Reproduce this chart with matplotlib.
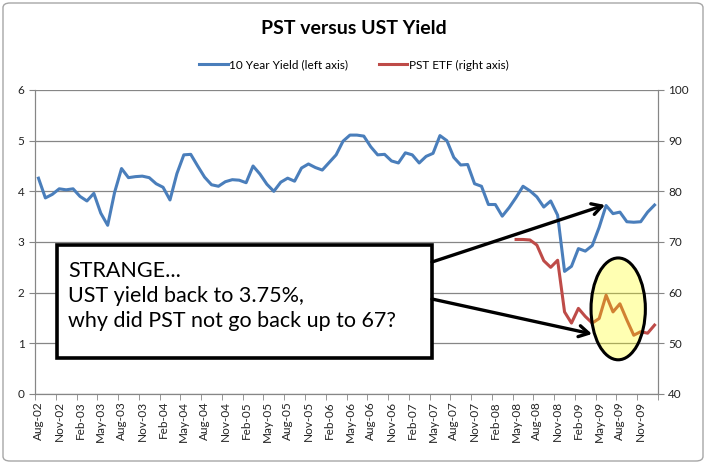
import numpy as np
import pandas as pd
import matplotlib
matplotlib.use("Agg")
import matplotlib.pyplot as plt
from matplotlib.patches import Ellipse, Rectangle, FancyBboxPatch, FancyArrowPatch

plt.rcParams['font.family'] = ['Lato', 'DejaVu Sans']

# monthly categories Aug-02 .. Jan-10
months = pd.date_range('2002-08-01', periods=90, freq='MS').strftime('%b-%y').tolist()

# 10 year treasury yield, %
yield10 = [4.26, 3.87, 3.94, 4.05, 4.03,
           4.05, 3.90, 3.81, 3.96, 3.57, 3.33, 3.98, 4.45, 4.27, 4.29, 4.30, 4.27,
           4.15, 4.08, 3.83, 4.35, 4.72, 4.73, 4.50, 4.28, 4.13, 4.10, 4.19, 4.23,
           4.22, 4.17, 4.50, 4.34, 4.14, 4.00, 4.18, 4.26, 4.20, 4.46, 4.54, 4.47,
           4.42, 4.57, 4.72, 4.99, 5.11, 5.11, 5.09, 4.88, 4.72, 4.73, 4.60, 4.56,
           4.76, 4.72, 4.56, 4.69, 4.75, 5.10, 5.00, 4.67, 4.52, 4.53, 4.15, 4.10,
           3.74, 3.74, 3.51, 3.68, 3.88, 4.10, 4.01, 3.89, 3.69, 3.81, 3.53, 2.42,
           2.52, 2.87, 2.82, 2.93, 3.29, 3.72, 3.56, 3.59, 3.40, 3.39, 3.40, 3.59,
           3.73]

# PST ETF price, starts May-08
pst_start = 'May-08'
pst = [70.5, 70.5, 70.4, 69.4, 66.3, 65.0, 66.4, 56.2, 54.0, 56.9, 55.3,
       54.0, 54.9, 59.5, 56.2, 57.8, 54.6, 51.6, 52.3, 52.0, 53.6]

W, H = 709, 468
def fx(x):
    return x / W
def fy(y):
    return 1 - y / H

blue = '#4A7EBB'
red = '#BE4B48'
grid = '#868686'

fig = plt.figure(figsize=(W / 100, H / 100), dpi=100)
fig.patch.set_facecolor('white')
fig.add_artist(FancyBboxPatch((fx(3), fy(461)), fx(700), 458 / H,
                              boxstyle='round,pad=0,rounding_size=0.01',
                              transform=fig.transFigure, facecolor='none',
                              edgecolor='#A6A6A6', lw=1))

ax = fig.add_axes([fx(35), fy(394), fx(623), 304 / H])
x = np.arange(len(months))
pst_full = np.full(len(months), np.nan)
i0 = months.index(pst_start)
pst_full[i0:i0 + len(pst)] = pst

l1, = ax.plot(x, yield10, color=blue, lw=2.2, solid_joinstyle='round')
ax.set_ylim(0, 6)
ax.set_xlim(-0.5, len(months) - 0.5)
ax.set_yticks(range(0, 7))
ax.grid(axis='y', color=grid, lw=0.9)
ax.set_axisbelow(True)

ax2 = ax.twinx()
l2, = ax2.plot(x, pst_full, color=red, lw=2.2, solid_joinstyle='round')
ax2.set_ylim(40, 100)
ax2.set_yticks(range(40, 101, 10))

for a in (ax, ax2):
    a.spines['top'].set_visible(False)
    for s in ('left', 'right', 'bottom'):
        a.spines[s].set_color(grid)
    a.tick_params(axis='y', length=4, color=grid, labelsize=8.5, labelcolor='#222222')

ax.set_xticks(x[::3])
ax.set_xticklabels(months[::3], rotation=90, fontsize=8.5, color='#222222')
ax.set_xticks(np.arange(-0.5, len(months), 3), minor=True)
ax.tick_params(axis='x', which='major', length=0, pad=5)
ax.tick_params(axis='x', which='minor', length=4, color=grid)

# highlight ellipse around PST
ax2.add_patch(Ellipse((83.75, 56.8), 7.85, 20.1, facecolor=(1, 1, 0, 0.3),
                      edgecolor='black', lw=2.2, zorder=5))

fig.text(fx(354), fy(28), 'PST versus UST Yield', ha='center', va='center',
         fontsize=14, fontweight='bold')
fig.legend([l1, l2], ['10 Year Yield (left axis)', 'PST ETF (right axis)'],
           loc='center', bbox_to_anchor=(fx(354), fy(65)), ncol=2, frameon=False,
           fontsize=8.5, handlelength=2.4, handletextpad=0.15, columnspacing=2.6)

# callout box
fig.add_artist(Rectangle((fx(57), fy(358)), fx(375), 113 / H, transform=fig.transFigure,
                         facecolor='white', edgecolor='black', lw=2.6, zorder=6))
fig.text(fx(68), fy(296), 'STRANGE...\nUST yield back to 3.75%,\nwhy did PST not go back up to 67?',
         ha='left', va='center', fontsize=15.5, linespacing=1.3, zorder=7)

for start, end in [((432, 262), (605, 205)), ((432, 299), (592, 334))]:
    fig.add_artist(FancyArrowPatch((fx(start[0]), fy(start[1])), (fx(end[0]), fy(end[1])),
                                   transform=fig.transFigure,
                                   arrowstyle='->,head_length=7,head_width=4',
                                   color='black', lw=2.4, shrinkA=0, shrinkB=0, zorder=7))

fig.savefig('out.png', dpi=100)
